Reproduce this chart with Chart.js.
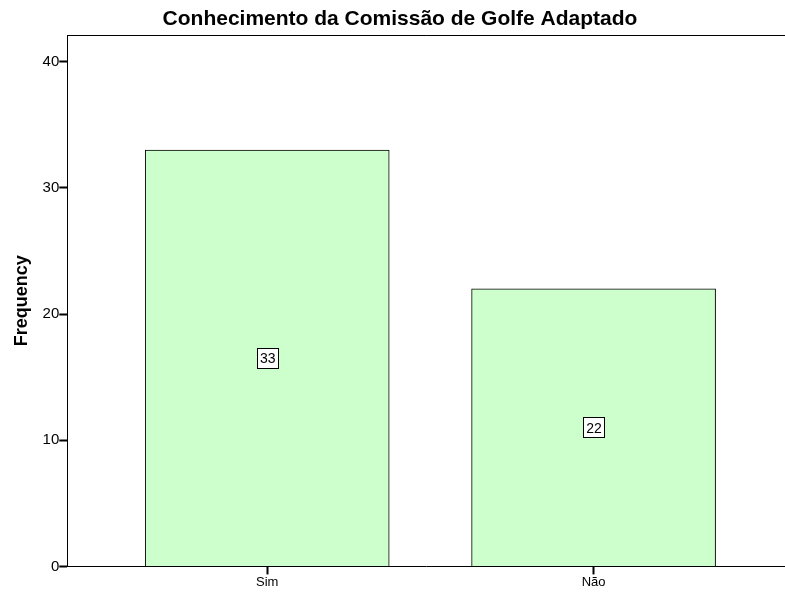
<!DOCTYPE html>
<html>
<head>
<meta charset="utf-8">
<script src="https://cdn.jsdelivr.net/npm/chart.js@4"></script>
<style>
  html, body { margin: 0; padding: 0; background: #fff; overflow: hidden; }
  #wrap { width: 785px; height: 594px; }
</style>
</head>
<body>
<div id="wrap"><canvas id="freqChart" width="785" height="594"></canvas></div>
<script>
'use strict';
let categories=['Sim', 'Não'];
let frequencies=[33, 22];
let yTicks=[0, 10, 20, 30, 40];

let chartFont='"Liberation Sans", Arial, sans-serif';

// white boxes holding the count, halfway up each bar
let countBoxes={
  id: 'countBoxes',
  afterDatasetsDraw(chart){
    let ctx=chart.ctx;
    let meta=chart.getDatasetMeta(0);
    ctx.save();
    ctx.font='14px '+chartFont;
    ctx.textAlign='center';
    ctx.textBaseline='middle';
    meta.data.forEach(function(bar, i){
      let txt=String(frequencies[i]);
      let midY=(bar.y+bar.base)/2;
      let w=Math.round(ctx.measureText(txt).width+5);
      let h=20;
      let bx=Math.round(bar.x-w/2);
      let by=Math.round(midY-h/2);
      ctx.fillStyle='#fff';
      ctx.fillRect(bx, by, w, h);
      ctx.strokeStyle='#000';
      ctx.lineWidth=1;
      ctx.strokeRect(bx+0.5, by+0.5, w, h);
      ctx.fillStyle='#000';
      ctx.fillText(txt, bar.x+0.5, midY+1.5);
    });
    ctx.restore();
  }
};

// top edge of the frame
let topEdge={
  id: 'topEdge',
  afterDraw(chart){
    let a=chart.chartArea;
    let ctx=chart.ctx;
    ctx.save();
    ctx.strokeStyle='#000';
    ctx.lineWidth=1;
    ctx.beginPath();
    ctx.moveTo(a.left, Math.round(a.top)+0.5);
    ctx.lineTo(a.right, Math.round(a.top)+0.5);
    ctx.stroke();
    ctx.restore();
  }
};

let points=frequencies.map(function(v, i){ return {x: i, y: v}; });

new Chart(document.getElementById('freqChart').getContext('2d'), {
  type: 'bar',
  data: {
    datasets: [{
      data: points,
      backgroundColor: '#ccffcc',
      borderColor: '#000',
      borderWidth: 1,
      barThickness: 244
    }]
  },
  options: {
    responsive: false,
    animation: false,
    // negative right padding nudges the title centre to the right
    layout: { padding: { left: 7, right: -8, top: 0, bottom: 4 } },
    plugins: {
      legend: { display: false },
      tooltip: { enabled: false },
      title: {
        display: true,
        text: 'Conhecimento da Comissão de Golfe Adaptado',
        color: '#000',
        font: { family: chartFont, size: 21, weight: 'bold' },
        padding: { top: 7, bottom: 3 }
      }
    },
    scales: {
      x: {
        type: 'linear',
        offset: false,
        min: -0.6126,
        max: 1.5865,
        afterBuildTicks(axis){
          axis.ticks=categories.map(function(c, i){ return {value: i}; });
        },
        ticks: {
          color: '#000',
          font: { family: chartFont, size: 13 },
          padding: 0,
          callback: function(v){ return categories[v]; }
        },
        grid: { offset: false, drawOnChartArea: false, drawTicks: true, tickLength: 8, tickWidth: 2, tickColor: '#000', color: '#000' },
        border: { display: true, color: '#000', width: 1 }
      },
      y: {
        min: 0,
        max: 42.1,
        afterBuildTicks(axis){
          axis.ticks=yTicks.map(function(v){ return {value: v}; });
        },
        ticks: {
          color: '#000',
          font: { family: chartFont, size: 15 },
          padding: 0
        },
        grid: { drawOnChartArea: false, drawTicks: true, tickLength: 8, tickWidth: 2, tickColor: '#000', color: '#000' },
        border: { display: true, color: '#000', width: 1 },
        title: {
          display: true,
          text: 'Frequency',
          color: '#000',
          font: { family: chartFont, size: 18, weight: 'bold' },
          padding: { top: 4, bottom: 10 }
        }
      }
    }
  },
  plugins: [countBoxes, topEdge]
});
</script>
</body>
</html>
